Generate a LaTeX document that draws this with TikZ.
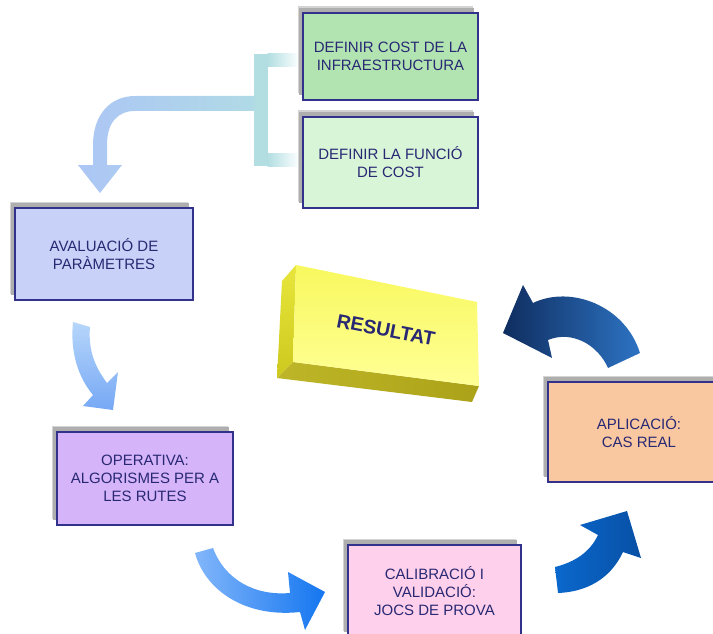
\documentclass[tikz,border=0pt]{standalone}
\usepackage{fontspec}
\setmainfont{Liberation Sans}
\usetikzlibrary{shadows}

\definecolor{boxline}{RGB}{50,50,140}
\definecolor{boxtext}{RGB}{40,40,115}
\definecolor{shadowgray}{RGB}{160,160,160}
\definecolor{fillA}{RGB}{178,228,178}
\definecolor{fillB}{RGB}{216,245,216}
\definecolor{fillC}{RGB}{200,210,248}
\definecolor{fillD}{RGB}{214,180,250}
\definecolor{fillE}{RGB}{255,208,235}
\definecolor{fillF}{RGB}{250,200,160}
\definecolor{teal}{RGB}{178,222,226}
\definecolor{stemL}{RGB}{172,198,245}
\definecolor{stemM}{RGB}{165,210,250}
\definecolor{stemR}{RGB}{176,218,230}

\tikzset{
  stepbox/.style={draw=boxline, line width=2.2pt, inner sep=0pt, align=center,
    text=boxtext, font=\fontsize{15}{18}\selectfont,
    general shadow={fill=shadowgray!45, shadow xshift=-5.5pt, shadow yshift=6.5pt},
    general shadow={fill=shadowgray!85, shadow xshift=-4pt, shadow yshift=5pt}}
}

\begin{document}
\begin{tikzpicture}[x=1pt,y=-1pt]
\useasboundingbox (0,0) rectangle (713,634);
\clip (0,0) rectangle (713,634);

% bracket joining the two cost boxes
\fill[teal] (254,54) rectangle (268,166);
\shade[left color=teal, right color=white] (267.5,54) rectangle (300,67);
\shade[left color=teal, right color=white] (267.5,153) rectangle (300,166);

% stem bending down onto the evaluation box
\shade[left color=stemL, middle color=stemM, right color=stemR]
  (254.5,96) -- (135,96) .. controls (110,96) and (93,115) .. (93,145)
  -- (93,165) -- (78,165) -- (100,193) -- (122,165) -- (107,165) -- (107,145)
  .. controls (107,122) and (118,111) .. (135,111) -- (254.5,111) -- cycle;

% process boxes
\node[stepbox, fill=fillA, minimum width=175pt, minimum height=87pt] (cost) at (390.5,56.5)
  {DEFINIR COST DE LA\\INFRAESTRUCTURA};
\node[stepbox, fill=fillB, minimum width=175pt, minimum height=91pt] (func) at (390.5,162.5)
  {DEFINIR LA FUNCIÓ\\DE COST};
\node[stepbox, fill=fillC, minimum width=178pt, minimum height=92pt] (eval) at (104,254)
  {AVALUACIÓ DE\\PARÀMETRES};
\node[stepbox, fill=fillD, minimum width=176pt, minimum height=93pt] (oper) at (145,478.5)
  {OPERATIVA:\\ALGORISMES PER A\\LES RUTES};
\node[stepbox, fill=fillE, minimum width=173pt, minimum height=92pt] (calib) at (434.5,591)
  {CALIBRACIÓ I\\VALIDACIÓ:\\JOCS DE PROVA};
\node[stepbox, fill=fillF, minimum width=182pt, minimum height=100pt] (appl) at (639,432)
  {APLICACIÓ:\\CAS REAL};

% curved block arrows of the cycle
\shade[top color={rgb,255:red,182;green,214;blue,250}, bottom color={rgb,255:red,118;green,168;blue,245}]
  (73,322) .. controls (70,352) and (78,377) .. (93,395) -- (83,406) -- (113,410)
  -- (118,372) -- (107,383) .. controls (95,367) and (88,350) .. (90,327) -- cycle;

\shade[left color={rgb,255:red,130;green,182;blue,250}, right color={rgb,255:red,20;green,118;blue,240}]
  (195,553) .. controls (205,590) and (245,618) .. (300,612) -- (305,630) -- (325,592)
  -- (288,572) -- (290,593) .. controls (255,596) and (225,580) .. (213,548) -- cycle;

\shade[left color={rgb,255:red,10;green,104;blue,205}, right color={rgb,255:red,8;green,80;blue,165}]
  (555,567) .. controls (575,562) and (590,552) .. (598,535) -- (580,525) -- (627,511)
  -- (641,558) -- (623,552) .. controls (610,580) and (585,592) .. (558,593) -- cycle;

\shade[left color={rgb,255:red,15;green,45;blue,95}, right color={rgb,255:red,45;green,115;blue,195}]
  (640,353) .. controls (625,305) and (570,285) .. (533,303) -- (523,285) -- (503,333)
  -- (552,358) -- (548,340) .. controls (572,330) and (598,345) .. (608,368) -- cycle;

% result block drawn as a slab in perspective
\coordinate (fa) at (296,265);
\coordinate (fb) at (477,302);
\coordinate (fc) at (479,386);
\coordinate (fd) at (293,362);
\coordinate (ba) at (282,281);
\coordinate (bd) at (277,378);
\coordinate (bc) at (472,402);
\shade[top color={rgb,255:red,232;green,230;blue,60}, bottom color={rgb,255:red,205;green,200;blue,30}]
  (fa) -- (fd) -- (bd) -- (ba) -- cycle;
\shade[left color={rgb,255:red,190;green,182;blue,40}, right color={rgb,255:red,172;green,162;blue,25}]
  (fd) -- (fc) -- (bc) -- (bd) -- cycle;
\shade[shading angle=-12, top color={rgb,255:red,248;green,248;blue,95},
       middle color={rgb,255:red,255;green,255;blue,0},
       bottom color={rgb,255:red,255;green,255;blue,150}]
  (fa) -- (fb) -- (fc) -- (fd) -- cycle;
\node[text=boxtext, font=\bfseries\fontsize{19.5}{22}\selectfont, rotate=-11] (result) at (386,330) {RESULTAT};
\end{tikzpicture}
\end{document}
